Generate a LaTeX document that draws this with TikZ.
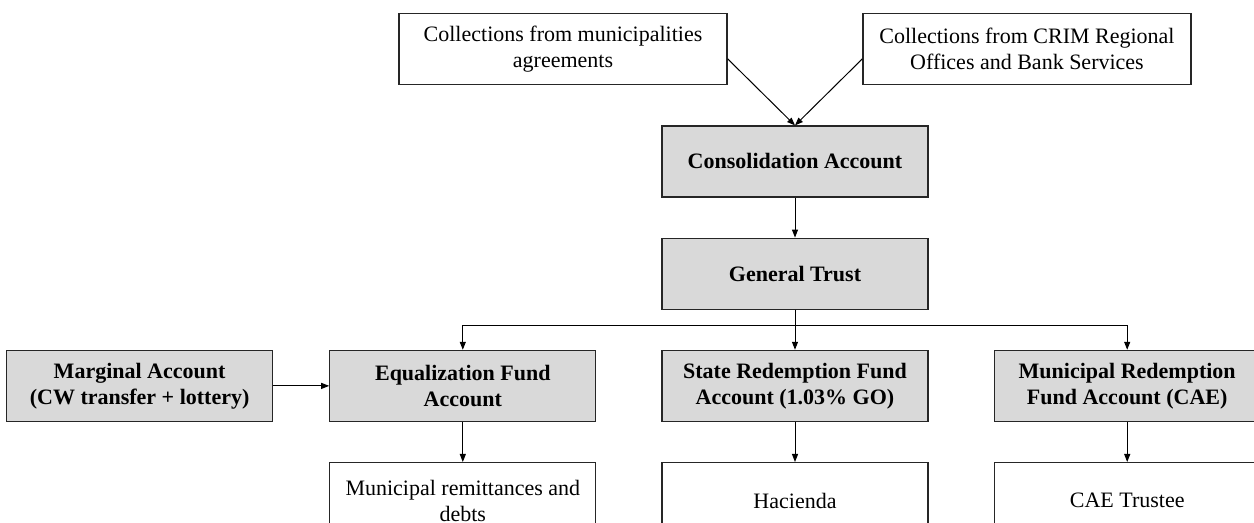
\documentclass[tikz,border=0pt]{standalone}
\usepackage{fontspec}
\setmainfont{Liberation Serif}
\usepackage{tikz}
\usetikzlibrary{arrows.meta,positioning}
\definecolor{acctfill}{HTML}{D9D9D9}

\begin{document}
\begin{tikzpicture}[
  x=0.5pt, y=-0.5pt,
  acct/.style={draw=black!85, line width=0.6pt, fill=acctfill, minimum width=133pt, minimum height=35.5pt, align=center, inner sep=2pt, font=\fontsize{11}{13}\selectfont\bfseries},
  outbox/.style={acct, fill=white, font=\fontsize{11}{13}\selectfont},
  arr/.style={-{Triangle[length=4pt,width=3pt]}, line width=0.5pt}
]
  \useasboundingbox (0,0) rectangle (1254,523);

  \node[acct] (cons) at (795,161.5) {Consolidation Account};
  \node[outbox, minimum width=164pt, above=20pt of cons, xshift=-116pt] (munic) {Collections from municipalities\\agreements};
  \node[outbox, minimum width=164pt, above=20pt of cons, xshift=116pt] (crim) {Collections from CRIM Regional\\Offices and Bank Services};
  \node[acct, below=20pt of cons] (trust) {General Trust};
  \node[acct, below=20pt of trust] (state) {State Redemption Fund\\Account (1.03\% GO)};
  \node[acct, left=32.5pt of state] (equal) {Equalization Fund\\Account};
  \node[acct, right=32.5pt of state] (mrf) {Municipal Redemption\\Fund Account (CAE)};
  \node[acct, left=28pt of equal] (marg) {Marginal Account\\(CW transfer + lottery)};
  \node[outbox, minimum height=38pt, below=20pt of equal] (remit) {Municipal remittances and\\debts};
  \node[outbox, minimum height=38pt, below=20pt of state] (hac) {Hacienda};
  \node[outbox, minimum height=38pt, below=20pt of mrf] (cae) {CAE Trustee};

  \draw[arr] ([yshift=-4.75pt]munic.east) -- (cons.north);
  \draw[arr] ([yshift=-4.75pt]crim.west) -- (cons.north);
  \draw[arr] (cons) -- (trust);
  \draw[arr] (trust) -- (state);
  \draw[arr] (trust.south) -- ++(0,-8pt) -| (equal.north);
  \draw[arr] (trust.south) -- ++(0,-8pt) -| (mrf.north);
  \draw[arr] (marg) -- (equal);
  \draw[arr] (equal) -- (remit);
  \draw[arr] (state) -- (hac);
  \draw[arr] (mrf) -- (cae);
\end{tikzpicture}
\end{document}
